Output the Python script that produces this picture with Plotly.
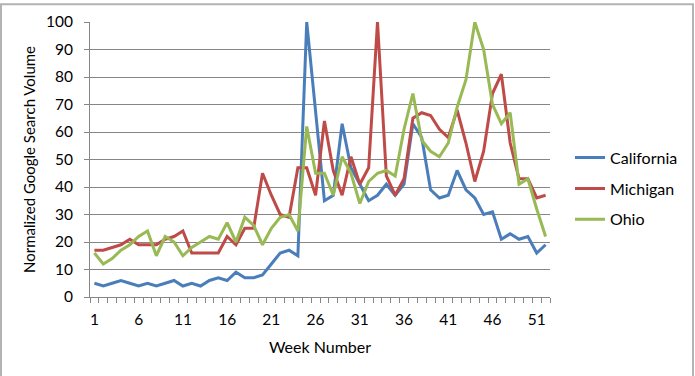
import plotly.graph_objects as go

weeks = list(range(1, 53))
california = [5, 4, 5, 6, 5, 4, 5, 4, 5, 6, 4, 5, 4, 6, 7, 6, 9, 7, 7, 8,
              12, 16, 17, 15, 100, 67, 35, 37, 63, 47, 41, 35, 37, 41, 37, 41, 63, 58, 39, 36,
              37, 46, 39, 36, 30, 31, 21, 23, 21, 22, 16, 19]
michigan = [17, 17, 18, 19, 21, 19, 19, 19, 21, 22, 24, 16, 16, 16, 16, 22, 19, 25, 25, 45,
            37, 30, 29, 47, 47, 37, 64, 46, 37, 51, 41, 47, 100, 44, 37, 43, 65, 67, 66, 61,
            58, 68, 56, 42, 53, 74, 81, 56, 43, 43, 36, 37]
ohio = [16, 12, 14, 17, 19, 22, 24, 15, 22, 20, 15, 18, 20, 22, 21, 27, 20, 29, 26, 19,
        25, 29, 30, 24, 62, 45, 45, 37, 51, 45, 34, 42, 45, 46, 44, 61, 74, 57, 53, 51,
        56, 69, 79, 100, 90, 70, 63, 67, 41, 43, 32, 22]
series_names = ["California", "Michigan", "Ohio"]
colors = ["#4A7EBB", "#BE4B48", "#98B954"]
x_tickvals = [1, 6, 11, 16, 21, 26, 31, 36, 41, 46, 51]
y_tickvals = list(range(0, 101, 10))

W, H = 695, 376
L, R, T, B = 90, 550, 19, 297

fig = go.Figure()
for i, (name, vals) in enumerate(zip(series_names, [california, michigan, ohio])):
    fig.add_trace(go.Scatter(x=weeks, y=vals, mode="lines", name=name,
                             legendgroup=name,
                             line=dict(color=colors[i], width=3)))

font_family = "Lato, Open Sans, sans-serif"
FS = 15.5
fig.update_layout(
    width=W, height=H,
    margin=dict(l=L, r=W - R, t=T, b=H - B, pad=0),
    paper_bgcolor="white", plot_bgcolor="white",
    font=dict(family=font_family, size=FS, color="#000000"),
    legend=dict(x=(570 - L) / (R - L), xanchor="left",
                y=(B - 139) / (B - T), yanchor="top",
                font=dict(size=16), tracegroupgap=7,
                bgcolor="rgba(0,0,0,0)", itemwidth=30),
    xaxis=dict(range=[0.5, 52.5], tickvals=x_tickvals, ticks="",
               showgrid=False, zeroline=False,
               showline=True, linecolor="#868686", linewidth=1,
               minor=dict(ticks="outside", ticklen=5, tickcolor="#868686",
                          tick0=0.5, dtick=1, showgrid=False),
               tickfont=dict(size=FS), ticklabelstandoff=8,
               title=dict(text="Week Number", font=dict(size=16), standoff=15)),
    yaxis=dict(range=[0, 100], tickvals=y_tickvals, ticks="outside", ticklen=5,
               tickcolor="#868686", showgrid=True, gridcolor="#868686", gridwidth=1,
               zeroline=False, showline=True, linecolor="#868686", linewidth=1,
               tickfont=dict(size=FS), ticklabelstandoff=8,
               title=dict(text="Normalized Google Search Volume", font=dict(size=15), standoff=6)),
)

# outer chart border
fig.add_shape(type="rect", xref="paper", yref="paper",
              x0=(1 - L) / (R - L), x1=(693 - L) / (R - L),
              y0=(B - 390) / (B - T), y1=(B - 1) / (B - T),
              line=dict(color="#B3B3B3", width=2), layer="below")

fig.write_html("out.html")
